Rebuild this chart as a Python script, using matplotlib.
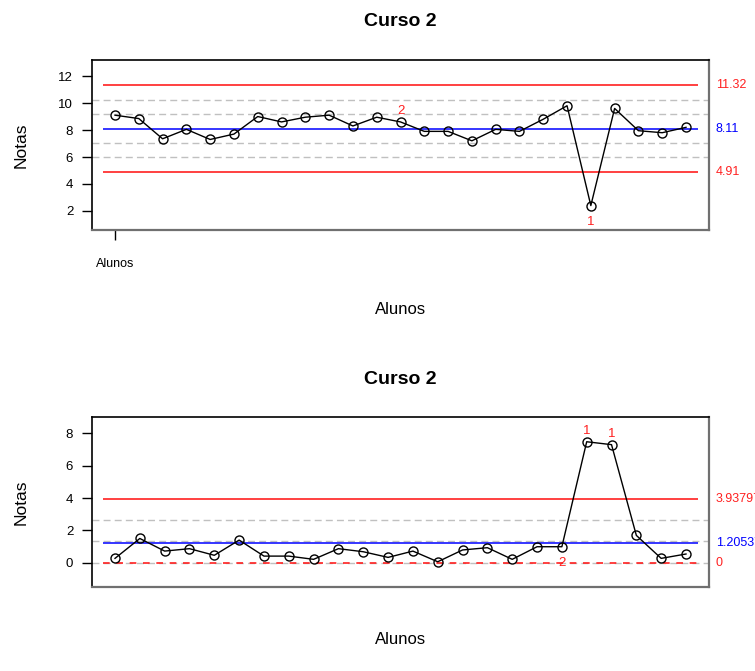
import matplotlib
matplotlib.use("Agg")
import matplotlib.pyplot as plt
import numpy as np

plt.rcParams['font.family'] = ['Liberation Sans', 'DejaVu Sans']

# dados
notas1 = [9.1, 8.85, 7.35, 8.05, 7.3, 7.7, 9.0, 8.6, 8.95, 9.1, 8.3, 8.95, 8.6,
          7.9, 7.9, 7.2, 8.05, 7.9, 8.8, 9.8, 2.4, 9.6, 7.95, 7.8, 8.2]
lim1 = {'lcl': 4.91, 'cl': 8.11, 'ucl': 11.32}
zonas1 = [5.97, 7.04, 9.18, 10.25]
marcas1 = {13: ('2', 'acima'), 21: ('1', 'abaixo')}
rotulos1 = ['11.32', '8.11', '4.91']

notas2 = [0.27, 1.5, 0.72, 0.87, 0.46, 1.4, 0.41, 0.41, 0.21, 0.87, 0.68, 0.33,
          0.72, 0.06, 0.79, 0.93, 0.21, 0.99, 0.99, 7.48, 7.3, 1.69, 0.27, 0.54]
lim2 = {'lcl': 0.0, 'cl': 1.20537, 'ucl': 3.93797}
zonas2 = [0.0, 1.36, 2.66]
marcas2 = {19: ('2', 'abaixo'), 20: ('1', 'acima'), 21: ('1', 'acima')}
rotulos2 = ['3.93797', '1.20537', '0']

RED = '#ff2020'
BLUE = '#0000ff'
GRAY = '#c0c0c0'

W, H = 755, 671
fig = plt.figure(figsize=(W / 100, H / 100), dpi=100)


def painel(top_px, bottom_px, notas, lim, zonas, marcas, rotulos, ylim, yticks,
           lcl_dash, tick_x, xlab_off, title_off):
    ax = fig.add_axes([92 / W, 1 - bottom_px / H, (709 - 92) / W, (bottom_px - top_px) / H])
    n = len(notas)
    x = np.arange(1, n + 1)
    sp = (686 - 115) / (n - 1)  # espaco entre alunos em px
    ax.set_xlim(1 - 23 / sp, 1 + 594 / sp)
    ax.set_ylim(*ylim)

    for z in zonas:
        ax.axhline(z, color=GRAY, lw=1.0, dashes=(5, 3), zorder=1)
    x0, x1 = 0.5, n + 0.5
    ax.hlines(lim['ucl'], x0, x1, color=RED, lw=1.2, zorder=2)
    if lcl_dash:
        ax.hlines(lim['lcl'], x0, x1, color=RED, lw=1.2, linestyles=(0, (4, 4)), zorder=2)
    else:
        ax.hlines(lim['lcl'], x0, x1, color=RED, lw=1.2, zorder=2)
    ax.hlines(lim['cl'], x0, x1, color=BLUE, lw=1.1, zorder=2)

    ax.plot(x, notas, color='black', lw=1.0, marker='o', ms=6.5, mfc='none',
            mec='black', mew=1.0, zorder=3)

    for i, (s, lado) in marcas.items():
        dy = 8 if lado == 'acima' else -12
        ax.annotate(s, (i, notas[i - 1]), xytext=(0, dy), textcoords='offset points',
                    ha='center', va='center', color=RED, fontsize=9.5)

    for val, txt, c in zip([lim['ucl'], lim['cl'], lim['lcl']], rotulos, [RED, BLUE, RED]):
        ax.text(1.011, val, txt, transform=ax.get_yaxis_transform(), ha='left',
                va='center', color=c, fontsize=9, clip_on=False)

    ax.set_yticks(yticks)
    ax.tick_params(axis='y', length=7, width=1.0, pad=6.5, labelsize=9.5)
    if tick_x:
        ax.set_xticks([1])
        ax.set_xticklabels(['Alunos'])
        ax.tick_params(axis='x', length=7, width=1.0, pad=13, labelsize=9)
    else:
        ax.set_xticks([])

    for s in ['top', 'left']:
        ax.spines[s].set_color('black')
        ax.spines[s].set_linewidth(1.2)
    for s in ['right', 'bottom']:
        ax.spines[s].set_color('#707070')
        ax.spines[s].set_linewidth(1.6)

    h = bottom_px - top_px
    ax.set_ylabel('Notas', fontsize=12.5)
    ax.yaxis.set_label_coords(-63 / 617, 0.5)
    ax.set_xlabel('Alunos', fontsize=12)
    ax.xaxis.set_label_coords(0.5, -xlab_off / h)
    ax.text(0.5, 1 + title_off / h, 'Curso 2', transform=ax.transAxes, ha='center',
            va='center', fontsize=14, fontweight='bold')
    return ax


painel(60, 230, notas1, lim1, zonas1, marcas1, rotulos1, (0.59, 13.19),
       [2, 4, 6, 8, 10, 12], False, True, 72, 38)
painel(417, 587, notas2, lim2, zonas2, marcas2, rotulos2, (-1.5, 9.01),
       [0, 2, 4, 6, 8], True, False, 45, 37)

fig.savefig('out.png', dpi=100)
